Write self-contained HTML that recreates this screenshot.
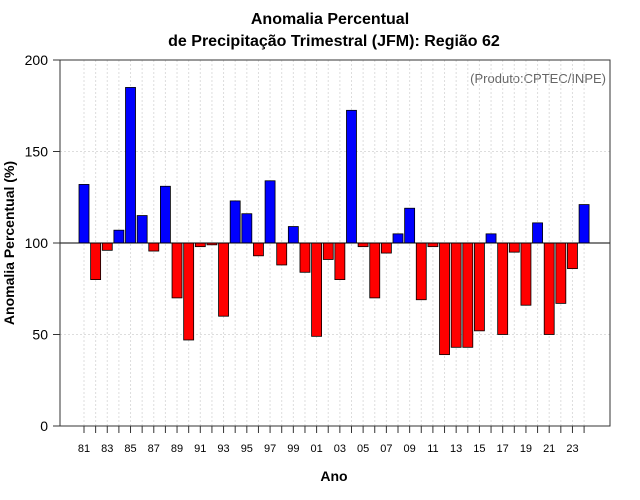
<!DOCTYPE html>
<html><head><meta charset="utf-8"><style>
body{margin:0;background:#fff;}
svg{display:block;font-family:"Liberation Sans",sans-serif;}
</style></head><body>
<svg id="chart" width="640" height="500">
<text x="330" y="24" text-anchor="middle" font-size="16" font-weight="bold">Anomalia Percentual</text>
<text x="334" y="46" text-anchor="middle" font-size="16" font-weight="bold">de Precipitação Trimestral (JFM): Região 62</text>
<text x="606" y="83" text-anchor="end" font-size="13" fill="#666">(Produto:CPTEC/INPE)</text>
<text x="334" y="481" text-anchor="middle" font-size="14" font-weight="bold">Ano</text>
<text transform="translate(14,243) rotate(-90)" text-anchor="middle" font-size="14" font-weight="bold">Anomalia Percentual (%)</text>
<g id="grid"></g><g id="bars"></g><g id="axes"></g>
</svg>
<script>
const years=[1981,1982,1983,1984,1985,1986,1987,1988,1989,1990,1991,1992,1993,1994,1995,1996,1997,1998,1999,2000,2001,2002,2003,2004,2005,2006,2007,2008,2009,2010,2011,2012,2013,2014,2015,2016,2017,2018,2019,2020,2021,2022,2023,2024];
const values=[132,80,96,107,185,115,95.6,131,70,47,98,99,60,123,116,93,134,88,109,84,49,91,80,172.5,98,70,94.5,105,119,69,98,39,43,43,52,105,50,95,66,111,50,67,86,121];
const yTicks=[0,50,100,150,200];
const NS="http://www.w3.org/2000/svg";
const L=60,R=610,T=60,B=426;
const x=yr=>84+(yr-1981)*11.63;
const y=v=>B-(v/200)*(B-T);
function mk(tag,attrs,parent){const e=document.createElementNS(NS,tag);for(const k in attrs)e.setAttribute(k,attrs[k]);parent.appendChild(e);return e;}
const grid=document.getElementById('grid'),bars=document.getElementById('bars'),axes=document.getElementById('axes');
years.forEach(yr=>{const g=mk('line',{x1:x(yr),x2:x(yr),y1:T,y2:B,stroke:'#ddd','stroke-dasharray':'2,2'},grid);

});
yTicks.forEach(v=>{if(v>0&&v<200){const g=mk('line',{x1:L,x2:R,y1:y(v),y2:y(v),stroke:'#ddd','stroke-dasharray':'2,2'},grid);

}});
years.forEach((yr,i)=>{const v=values[i];const top=Math.min(y(v),y(100)),h=Math.abs(y(v)-y(100));
const r=mk('rect',{x:x(yr)-5,y:top,width:10,height:h,fill:v>=100?'#0000ff':'#ff0000',stroke:'#000','stroke-width':0.8},bars);

});
const base=mk('line',{x1:L,x2:R,y1:y(100),y2:y(100),stroke:'#000','stroke-width':1},axes);


const box=mk('rect',{x:L,y:T,width:R-L,height:B-T,fill:'none',stroke:'#333','stroke-width':1},axes);


yTicks.forEach(v=>{const t=mk('line',{x1:L-7,x2:L,y1:y(v),y2:y(v),stroke:'#333'},axes);


const tx=mk('text',{x:L-12,y:y(v)+5,'text-anchor':'end','font-size':14},axes);tx.textContent=v;

});
years.forEach((yr,i)=>{const t=mk('line',{x1:x(yr),x2:x(yr),y1:B,y2:B+7,stroke:'#333'},axes);


if(i%2===0&&yr<2024){const tx=mk('text',{x:x(yr),y:B+26,'text-anchor':'middle','font-size':11},axes);tx.textContent=String(yr).slice(2);

}});
</script>
</body></html>
